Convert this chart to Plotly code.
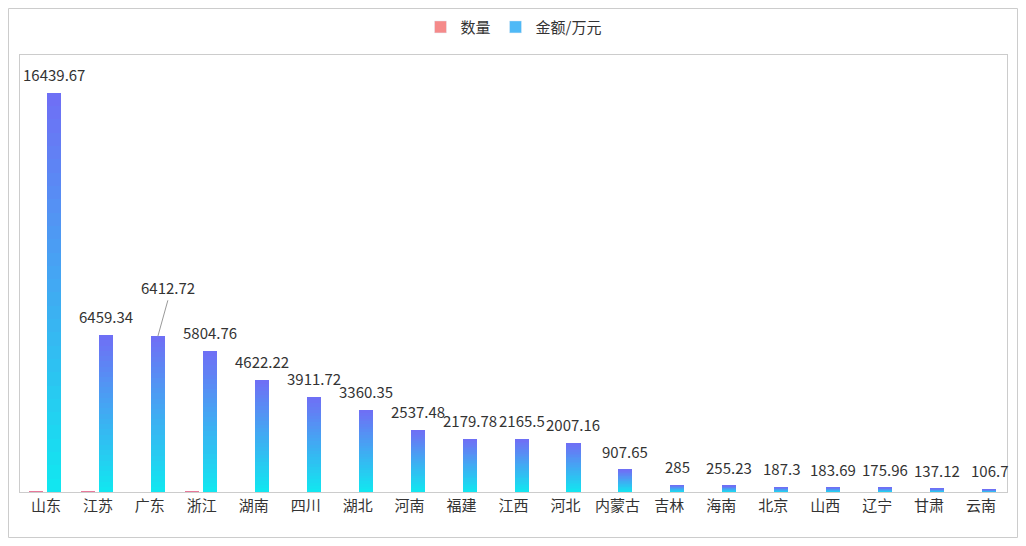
import plotly.graph_objects as go

provinces = ["山东","江苏","广东","浙江","湖南","四川","湖北","河南","福建","江西","河北","内蒙古","吉林","海南","北京","山西","辽宁","甘肃","云南"]
amounts = [16439.67,6459.34,6412.72,5804.76,4622.22,3911.72,3360.35,2537.48,2179.78,2165.5,2007.16,907.65,285,255.23,187.3,183.69,175.96,137.12,106.7]
counts = [40,35,0,35,0,0,0,0,0,0,0,0,0,0,0,0,0,0,0]
labels = ["16439.67","6459.34","6412.72","5804.76","4622.22","3911.72","3360.35","2537.48","2179.78","2165.5","2007.16","907.65","285","255.23","187.3","183.69","175.96","137.12","106.7"]

idx = list(range(len(provinces)))
N = 30
top_c = (112, 110, 245)
bot_c = (16, 232, 240)
def mix(t):
    return "rgb(%d,%d,%d)" % tuple(round(b + (a - b) * t) for a, b in zip(top_c, bot_c))

fig = go.Figure()
W = 0.27
for k in range(N):
    t = (k + 0.5) / N
    fig.add_trace(go.Bar(x=idx, y=[v / N for v in amounts], base=[v * k / N for v in amounts],
                         width=W, offset=0.02, marker=dict(color=mix(t), line=dict(width=0)),
                         showlegend=False, hoverinfo="skip"))
fig.add_trace(go.Bar(x=idx, y=counts, width=W, offset=-0.32, marker=dict(color="#e8789a", line=dict(width=0)),
                     showlegend=False))
fig.add_trace(go.Bar(x=[None], y=[None], name="数量", marker=dict(color="#f58a8a")))
fig.add_trace(go.Bar(x=[None], y=[None], name="金额/万元", marker=dict(color="#4fb9f6")))

for i, (v, lab) in enumerate(zip(amounts, labels)):
    if provinces[i] == "广东":
        fig.add_annotation(x=i, y=v, text=lab, xshift=8, showarrow=True, arrowhead=0, arrowwidth=1,
                           arrowcolor="#999", ax=10, ay=-36, yanchor="bottom", font=dict(size=15, color="#333"))
    else:
        fig.add_annotation(x=i, y=v, text=lab, xshift=8, yshift=6, showarrow=False, yanchor="bottom",
                           font=dict(size=15, color="#333"))

fig.update_layout(
    width=1010, height=530, barmode="overlay", plot_bgcolor="white", paper_bgcolor="white",
    margin=dict(l=12, r=11, t=47, b=46),
    font=dict(family="Noto Sans CJK SC, sans-serif", size=15, color="#333"),
    legend=dict(orientation="h", x=0.5, xanchor="center", y=0.995, yanchor="top", yref="container",
                font=dict(size=15, color="#333"), itemwidth=30, traceorder="normal"),
    xaxis=dict(tickmode="array", tickvals=idx, ticktext=provinces, range=[-0.5, len(idx) - 0.5],
               showline=True, linecolor="#ccc", mirror=True, ticks="", showgrid=False),
    yaxis=dict(range=[0, 18000], showticklabels=False, showgrid=False, zeroline=False,
               showline=True, linecolor="#ccc", mirror=True, ticks=""),
    bargap=0,
)
fig.add_shape(type="rect", xref="paper", yref="paper", x0=-11.5/987, x1=1 + 10.5/987, y0=-45.5/437, y1=1 + 46.5/437,
              line=dict(color="#ccc", width=1))
fig.write_html("out.html")
